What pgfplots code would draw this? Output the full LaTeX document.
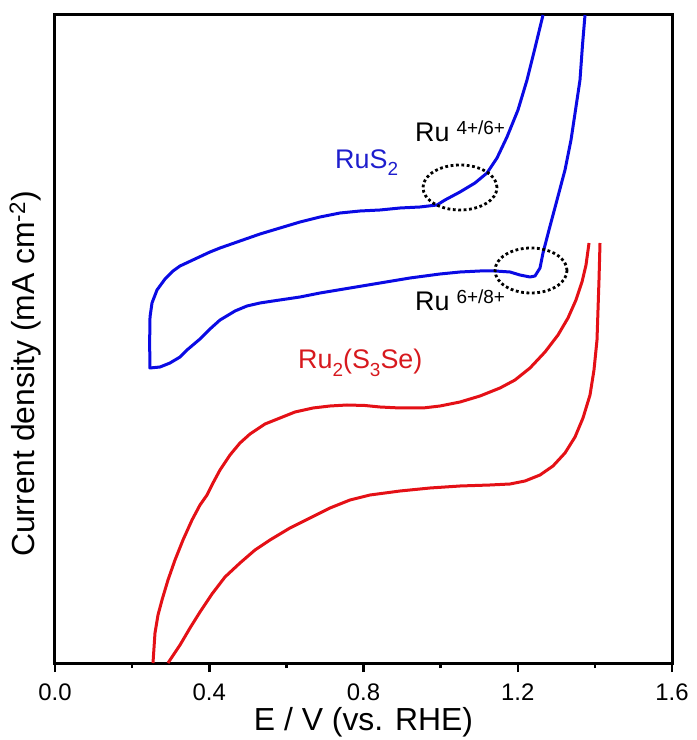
\documentclass[border=0pt]{standalone}
\usepackage{fontspec}
\setmainfont{Liberation Sans}
\usepackage{pgfplots}
\pgfplotsset{compat=1.18}
\definecolor{cvblue}{RGB}{10,10,228}
\definecolor{cvred}{RGB}{228,16,22}
\definecolor{lblblue}{RGB}{30,30,205}
\definecolor{lblred}{RGB}{215,25,30}
\begin{document}
\begin{tikzpicture}
\useasboundingbox (-55bp,-77bp) rectangle (642bp,663bp);
\begin{axis}[
  scale only axis, width=617bp, height=648bp,
  at={(0,0)}, anchor=south west,
  xmin=0, xmax=1.6, ymin=0, ymax=648,
  xtick={0,0.4,0.8,1.2,1.6},
  minor xtick={0.2,0.6,1.0,1.4},
  ytick=\empty,
  xtick pos=bottom,
  tick align=outside,
  major tick length=9bp, minor tick length=5bp,
  every tick/.style={black, line width=2.5bp},
  axis line style={line width=3bp},
  /pgf/number format/.cd, fixed, fixed zerofill, precision=1, assume math mode=true,
  /pgfplots/.cd,
  xticklabel style={font=\fontsize{24}{24}\selectfont, anchor=base, inner sep=0pt, yshift=-28bp},
  xlabel={E / V (vs. RHE)},
  ylabel={Current density (mA cm\textsuperscript{-2})},
  xlabel style={font=\fontsize{32}{32}\selectfont, at={(axis description cs:0.5,0)}, anchor=base, inner sep=0pt, yshift=-67bp},
  ylabel style={font=\fontsize{32}{32}\selectfont, at={(axis description cs:-0.034,0.446)}, anchor=base, inner sep=0pt},
  every axis plot/.append style={line join=round},
]
% RuS2 cyclic voltammogram (closed loop)
\addplot[cvblue, line width=3bp] table {
1.2655 648
1.2447 615
1.2240 583
1.2006 553
1.1721 526
1.1462 505
1.1203 490
1.0891 480
1.0502 471
1.0113 463
0.9906 458
0.9465 456
0.8947 455
0.8428 453
0.7909 452
0.7391 450
0.6872 446
0.6353 441
0.5835 435
0.5316 429
0.4797 422
0.4279 415
0.4019 411
0.3630 404
0.3242 397
0.3060 392
0.2853 384
0.2645 373
0.2515 360
0.2464 346
0.2455 323
0.2460 295
0.2723 296
0.2982 300
0.3242 306
0.3423 313
0.3760 324
0.4019 334
0.4279 343
0.4668 352
0.4979 357
0.5316 360
0.5653 362
0.6353 366
0.6872 370
0.7650 375
0.8428 380
0.9206 385
0.9984 389
1.0502 391
1.1021 392
1.1410 392
1.1799 391
1.2058 388
1.2318 386
1.2447 387
1.2577 395
1.2655 410
1.2810 433
1.3018 463
1.3225 493
1.3381 523
1.3498 553
1.3614 583
1.3679 618
1.3744 648
};
% Ru2(S3Se) cyclic voltammogram, upper branch
\addplot[cvred, line width=3bp] table {
0.2541 0
0.2593 30
0.2671 48
0.2775 63
0.2930 83
0.3112 103
0.3319 123
0.3553 143
0.3760 158
0.3942 168
0.4097 180
0.4279 193
0.4538 208
0.4797 220
0.5057 229
0.5446 239
0.5835 245
0.6224 251
0.6690 255
0.7131 257
0.7572 258
0.8039 257.5
0.8428 256
0.8947 255
0.9543 255
0.9984 257
1.0502 261
1.1021 267
1.1540 275
1.1929 283
1.2318 295
1.2707 311
1.3044 328
1.3303 345
1.3510 363
1.3666 381
1.3770 398
1.3848 420
};
% Ru2(S3Se), lower branch
\addplot[cvred, line width=3bp] table {
0.2930 0
0.3242 18
0.3501 35
0.3760 51
0.4071 69
0.4408 86
0.4797 100
0.5186 113
0.5575 123
0.6094 135
0.6613 145
0.7131 155
0.7650 163
0.8169 168
0.8947 172
0.9725 175
1.0502 177
1.1280 178
1.1799 179
1.2188 182
1.2577 188
1.2914 197
1.3225 210
1.3485 226
1.3692 245
1.3874 268
1.3977 293
1.4055 323
1.4081 353
1.4107 383
1.4133 420
};
% dotted ellipses marking the redox features
\draw[black, line width=2.8bp, dash pattern=on 2.8bp off 2.6bp] (axis cs:1.0502,475.5) ellipse [x radius=37bp, y radius=22.5bp];
\draw[black, line width=2.8bp, dash pattern=on 2.8bp off 2.6bp] (axis cs:1.2344,392.5) ellipse [x radius=36bp, y radius=22.5bp];
% labels
\node[anchor=base west, inner sep=0pt, text=lblblue, font=\fontsize{27}{27}\selectfont] at (axis cs:0.7261,494) {RuS\raisebox{-7bp}{\fontsize{19}{19}\selectfont 2}};
\node[anchor=base west, inner sep=0pt, text=black, font=\fontsize{27}{27}\selectfont] at (axis cs:0.9335,521) {Ru\hspace{7bp}\raisebox{7bp}{\fontsize{19}{19}\selectfont 4+/6+}};
\node[anchor=base west, inner sep=0pt, text=black, font=\fontsize{27}{27}\selectfont] at (axis cs:0.9335,352) {Ru\hspace{7bp}\raisebox{7bp}{\fontsize{19}{19}\selectfont 6+/8+}};
\node[anchor=base west, inner sep=0pt, text=lblred, font=\fontsize{27}{27}\selectfont] at (axis cs:0.6301,294) {Ru\raisebox{-8bp}{\fontsize{19}{19}\selectfont 2}(S\raisebox{-8bp}{\fontsize{19}{19}\selectfont 3}Se)};
\end{axis}
\end{tikzpicture}
\end{document}
